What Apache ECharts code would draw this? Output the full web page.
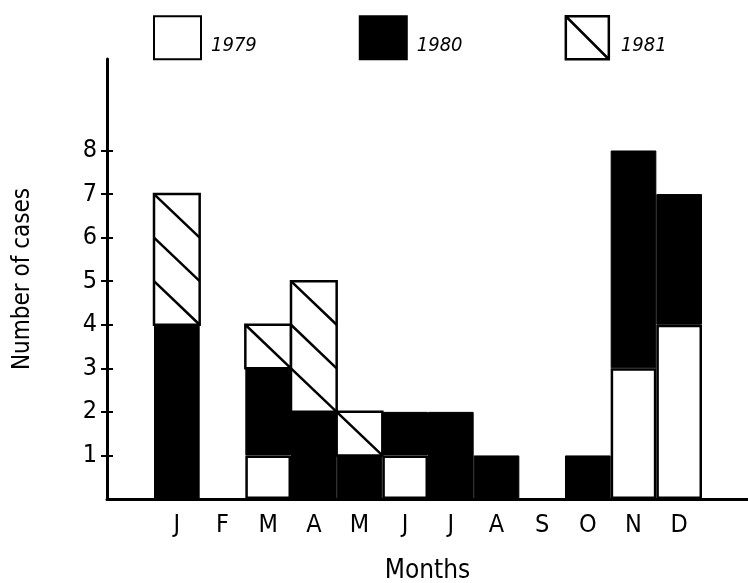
<!DOCTYPE html>
<html>
<head>
<meta charset="utf-8">
<script src="https://cdn.jsdelivr.net/npm/echarts@6/dist/echarts.min.js"></script>
<style>
  html, body { margin: 0; padding: 0; background: #fff; }
  #chart { width: 748px; height: 583px; }
</style>
</head>
<body>
<div id="chart"></div>
<script>
// cases per month, stacked 1979 / 1980 / 1981
const months = ['J', 'F', 'M', 'A', 'M', 'J', 'J', 'A', 'S', 'O', 'N', 'D']
const cases1979 = [0, 0, 1, 0, 0, 1, 0, 0, 0, 0, 3, 4]
const cases1980 = [4, 0, 2, 2, 1, 1, 2, 1, 0, 1, 5, 3]
const cases1981 = [3, 0, 1, 3, 1, 0, 0, 0, 0, 0, 0, 0]
const yTicks = [1, 2, 3, 4, 5, 6, 7, 8]

const FONT = "'DejaVu Sans Condensed', 'Liberation Sans Narrow', 'Roboto Condensed', Roboto, sans-serif"
const Y_MAX = 10.1
const LINE = 2.5

// empty months: no zero-height bar outline on the baseline
const noZero = arr => arr.map(v => (v === 0 ? null : v))

// 1981 sits on top of 1979 + 1980
const hatchData = months.map((m, i) => {
  const base = cases1979[i] + cases1980[i]
  return [i, base, base + cases1981[i]]
})

// white block with one diagonal per case
function renderHatch(params, api) {
  const idx = api.value(0)
  const base = api.value(1)
  const top = api.value(2)
  if (top <= base) return
  const w = api.size([1, 0])[0]
  const pb = api.coord([idx, base])
  const pt = api.coord([idx, top])
  const x0 = pb[0] - w / 2
  const children = [{
    type: 'rect',
    shape: { x: x0, y: pt[1], width: w, height: pb[1] - pt[1] },
    style: { fill: '#fff', stroke: '#000', lineWidth: LINE }
  }]
  for (let k = base; k < top; k++) {
    const yLo = api.coord([idx, k])[1]
    const yHi = api.coord([idx, k + 1])[1]
    children.push({
      type: 'line',
      shape: { x1: x0, y1: yHi, x2: x0 + w, y2: yLo },
      style: { stroke: '#000', lineWidth: LINE }
    })
  }
  return { type: 'group', children: children }
}

const myChart = echarts.init(document.getElementById('chart'))

const options = {
  backgroundColor: '#fff',
  animation: false,
  textStyle: { fontFamily: FONT },
  legend: {
    left: 153,
    top: 15,
    padding: 0,
    itemWidth: 47,
    itemHeight: 43,
    itemGap: 102,
    icon: 'rect',
    formatter: '{t|{name}}',
    textStyle: {
      width: 48,
      rich: {
        t: {
          fontFamily: FONT,
          fontStyle: 'italic',
          fontSize: 20,
          color: '#000',
          padding: [16, 0, 0, 5]
        }
      }
    },
    data: [
      { name: '1979' },
      { name: '1980' },
      {
        name: '1981',
        icon: 'path://M0,0 L40,0 L40,40 L0,40 Z M0,0 L40,40',
        itemStyle: { color: '#fff', borderColor: '#000', borderWidth: LINE }
      }
    ]
  },
  grid: [
    // frame: axis lines, ticks, numbers
    { left: 107, right: 0, top: 59, bottom: 84, outerBoundsMode: 'none' },
    // bars
    { left: 154, right: 46, top: 59, bottom: 84, outerBoundsMode: 'none' }
  ],
  xAxis: [
    {
      gridIndex: 0,
      type: 'value',
      min: 0,
      max: 1,
      name: 'Months',
      nameLocation: 'middle',
      nameGap: 59,
      nameTextStyle: { fontFamily: FONT, fontSize: 26, color: '#000' },
      axisLine: { lineStyle: { color: '#000', width: 3 } },
      axisTick: { show: false },
      axisLabel: { show: false },
      splitLine: { show: false }
    },
    {
      gridIndex: 1,
      type: 'category',
      data: months,
      boundaryGap: true,
      axisLine: { show: false },
      axisTick: { show: false },
      axisLabel: { fontFamily: FONT, fontSize: 25, color: '#000', margin: 14 },
      splitLine: { show: false }
    }
  ],
  yAxis: [
    {
      gridIndex: 0,
      type: 'value',
      min: 0,
      max: Y_MAX,
      name: 'Number of cases',
      nameLocation: 'middle',
      nameGap: 72,
      nameTextStyle: { fontFamily: FONT, fontSize: 24, color: '#000' },
      axisLine: { show: true, lineStyle: { color: '#000', width: 3 } },
      axisTick: { show: true, length: 6, customValues: yTicks, lineStyle: { color: '#000', width: 2 } },
      axisLabel: { customValues: yTicks, fontFamily: FONT, fontSize: 25, color: '#000', margin: 10 },
      splitLine: { show: false }
    },
    {
      // inner half of the crossing ticks
      gridIndex: 0,
      type: 'value',
      min: 0,
      max: Y_MAX,
      position: 'left',
      axisLine: { show: false },
      axisTick: { show: true, inside: true, length: 6, customValues: yTicks, lineStyle: { color: '#000', width: 2 } },
      axisLabel: { show: false },
      splitLine: { show: false }
    },
    {
      gridIndex: 1,
      type: 'value',
      min: 0,
      max: Y_MAX,
      show: false,
      splitLine: { show: false }
    }
  ],
  series: [
    {
      name: '1979',
      type: 'bar',
      xAxisIndex: 1,
      yAxisIndex: 2,
      stack: 'cases',
      barCategoryGap: 0,
      itemStyle: { color: '#fff', borderColor: '#000', borderWidth: LINE },
      data: noZero(cases1979)
    },
    {
      name: '1980',
      type: 'bar',
      xAxisIndex: 1,
      yAxisIndex: 2,
      stack: 'cases',
      barCategoryGap: 0,
      itemStyle: { color: '#000', borderColor: '#000', borderWidth: 1 },
      data: noZero(cases1980)
    },
    {
      name: '1981',
      type: 'custom',
      xAxisIndex: 1,
      yAxisIndex: 2,
      itemStyle: { color: '#fff', borderColor: '#000', borderWidth: LINE },
      renderItem: renderHatch,
      data: hatchData
    }
  ]
}

myChart.setOption(options)
</script>
</body>
</html>
